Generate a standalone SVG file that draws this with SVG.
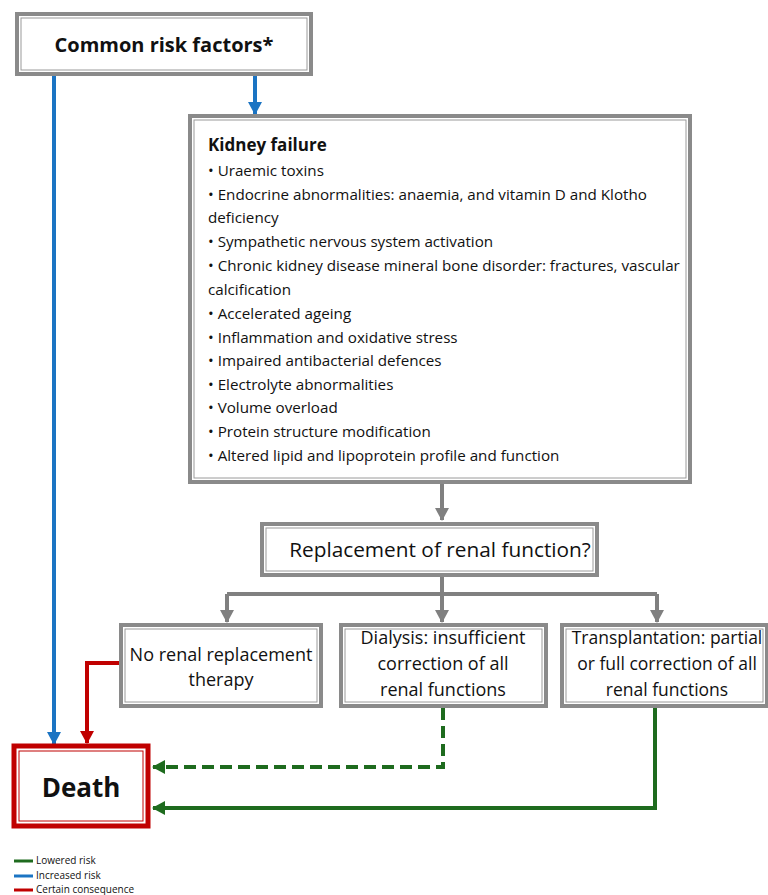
<svg xmlns="http://www.w3.org/2000/svg" width="768" height="895" viewBox="0 0 768 895">
<style>
.box{fill:#fff;stroke:#8a8a8a;stroke-width:4}
.inner{fill:none;stroke:#9a9a9a;stroke-width:1}
.t{font-family:"Open Sans","Liberation Sans",sans-serif;fill:#111}
.c{stroke-width:4;fill:none}
.gray{stroke:#808080}
.blue{stroke:#1b74c3}
.red{stroke:#c00000}
.green{stroke:#1e6b1e}
</style>
<defs>
<marker id="ag" markerUnits="userSpaceOnUse" markerWidth="14" markerHeight="14" refX="12" refY="7" orient="auto"><path d="M0,0 L13,7 L0,14 z" fill="#808080"/></marker>
<marker id="ab" markerUnits="userSpaceOnUse" markerWidth="14" markerHeight="14" refX="12" refY="7" orient="auto"><path d="M0,0 L13,7 L0,14 z" fill="#1b74c3"/></marker>
<marker id="ar" markerUnits="userSpaceOnUse" markerWidth="14" markerHeight="14" refX="12" refY="7" orient="auto"><path d="M0,0 L13,7 L0,14 z" fill="#c00000"/></marker>
<marker id="agr" markerUnits="userSpaceOnUse" markerWidth="14" markerHeight="14" refX="12" refY="7" orient="auto"><path d="M0,0 L13,7 L0,14 z" fill="#1e6b1e"/></marker>
</defs>
<rect width="768" height="895" fill="#fff"/>
<g id="connectors">
<path class="c blue" d="M54,75 V744" marker-end="url(#ab)"/>
<path class="c blue" d="M255,75 V114" marker-end="url(#ab)"/>
<path class="c gray" d="M442,482 V520" marker-end="url(#ag)"/>
<path class="c gray" d="M442,575 V594"/>
<path class="c gray" d="M227,594 H657"/>
<path class="c gray" d="M227,594 V622" marker-end="url(#ag)"/>
<path class="c gray" d="M442,594 V622" marker-end="url(#ag)"/>
<path class="c gray" d="M657,594 V622" marker-end="url(#ag)"/>
<path class="c red" d="M121,663 H87 V743" marker-end="url(#ar)"/>
<path class="c green" d="M443,708 V767 H153" stroke-dasharray="12,6" marker-end="url(#agr)"/>
<path class="c green" d="M655,707 V808 H153" marker-end="url(#agr)"/>
</g>
<g id="risk">
<rect class="box" x="17" y="14" width="294" height="60"/>
<rect class="inner" x="21" y="18" width="286" height="52"/>
<text class="t" x="164" y="52" font-size="20" font-weight="bold" text-anchor="middle">Common risk factors*</text>
</g>
<g id="kidney">
<rect class="box" x="190" y="116" width="500" height="366"/>
<rect class="inner" x="194" y="120" width="492" height="358"/>
<text class="t" font-size="17" font-weight="bold" x="208" y="151">Kidney failure</text>
<g class="t" font-size="15.2">
<text x="208" y="176">• Uraemic toxins</text>
<text x="208" y="200">• Endocrine abnormalities: anaemia, and vitamin D and Klotho</text>
<text x="208" y="223">deficiency</text>
<text x="208" y="247">• Sympathetic nervous system activation</text>
<text x="208" y="271">• Chronic kidney disease mineral bone disorder: fractures, vascular</text>
<text x="208" y="295">calcification</text>
<text x="208" y="319">• Accelerated ageing</text>
<text x="208" y="343">• Inflammation and oxidative stress</text>
<text x="208" y="366">• Impaired antibacterial defences</text>
<text x="208" y="390">• Electrolyte abnormalities</text>
<text x="208" y="413">• Volume overload</text>
<text x="208" y="437">• Protein structure modification</text>
<text x="208" y="461">• Altered lipid and lipoprotein profile and function</text>
</g>
</g>
<g id="replacement">
<rect class="box" x="262" y="524" width="335" height="51"/>
<rect class="inner" x="266" y="528" width="327" height="43"/>
<text class="t" x="440" y="557" font-size="20.8" text-anchor="middle">Replacement of renal function?</text>
</g>
<g id="norrt">
<rect class="box" x="121" y="625" width="200" height="81"/>
<rect class="inner" x="125" y="629" width="192" height="73"/>
<text class="t" x="221" y="661" font-size="18" text-anchor="middle">No renal replacement</text>
<text class="t" x="221" y="686" font-size="18" text-anchor="middle">therapy</text>
</g>
<g id="dialysis">
<rect class="box" x="341" y="625" width="205" height="81"/>
<rect class="inner" x="345" y="629" width="197" height="73"/>
<text class="t" x="443" y="644" font-size="18" text-anchor="middle">Dialysis: insufficient</text>
<text class="t" x="443" y="670" font-size="18" text-anchor="middle">correction of all</text>
<text class="t" x="443" y="696" font-size="18" text-anchor="middle">renal functions</text>
</g>
<g id="transplant">
<rect class="box" x="562" y="625" width="205" height="81"/>
<rect class="inner" x="566" y="629" width="197" height="73"/>
<text class="t" x="667" y="644" font-size="17.5" text-anchor="middle">Transplantation: partial</text>
<text class="t" x="667" y="670" font-size="17.5" text-anchor="middle">or full correction of all</text>
<text class="t" x="667" y="696" font-size="17.5" text-anchor="middle">renal functions</text>
</g>
<g id="death">
<rect x="14" y="746" width="134" height="80" fill="#fff" stroke="#c00000" stroke-width="5"/>
<rect x="19" y="751" width="124" height="70" fill="none" stroke="#c00000" stroke-width="1"/>
<text class="t" x="81" y="797" font-size="26" font-weight="bold" text-anchor="middle">Death</text>
</g>
<g id="legend">
<line x1="14" y1="861" x2="33" y2="861" stroke="#1e6b1e" stroke-width="3"/>
<line x1="14" y1="876" x2="33" y2="876" stroke="#1b74c3" stroke-width="3"/>
<line x1="14" y1="890" x2="33" y2="890" stroke="#c00000" stroke-width="3"/>
<text class="t" x="36" y="864" font-size="10">Lowered risk</text>
<text class="t" x="36" y="879" font-size="10">Increased risk</text>
<text class="t" x="36" y="893" font-size="10">Certain consequence</text>
</g>
</svg>
